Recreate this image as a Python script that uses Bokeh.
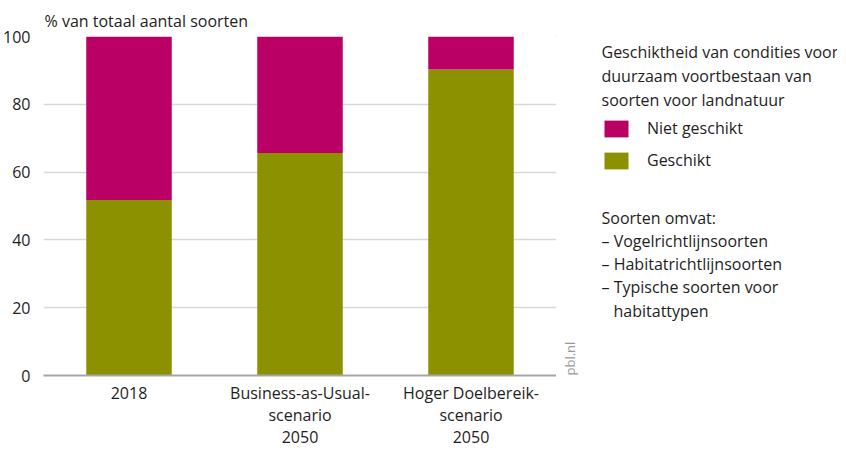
import math
from bokeh.plotting import figure
from bokeh.layouts import row
from bokeh.models import Legend, LegendItem, Label, ColumnDataSource, Range1d, FixedTicker, Title
from bokeh.embed import file_html
from bokeh.resources import INLINE

categories = ["2018", "Business-as-Usual-\nscenario\n2050", "Hoger Doelbereik-\nscenario\n2050"]
geschikt = [51.8, 65.6, 90.3]
niet_geschikt = [48.2, 34.4, 9.7]
series = ["geschikt", "niet_geschikt"]
series_labels = ["Geschikt", "Niet geschikt"]
colors = ["#8c9100", "#ba0064"]
y_ticks = [0, 20, 40, 60, 80, 100]
y_title = "% van totaal aantal soorten"
legend_title = ["Geschiktheid van condities voor", "duurzaam voortbestaan van", "soorten voor landnatuur"]
notes = ["Soorten omvat:", "\u2013 Vogelrichtlijnsoorten", "\u2013 Habitatrichtlijnsoorten",
         "\u2013 Typische soorten voor", "habitattypen"]
source_text = "pbl.nl"

FONT = "Open Sans"
FS = "16px"
TXT = "#1e1e1e"
FT, FH = 36, 339
FB = FT + FH

source = ColumnDataSource(dict(cat=categories, geschikt=geschikt, niet_geschikt=niet_geschikt))

p = figure(x_range=categories, y_range=Range1d(0, 100), frame_width=513, frame_height=FH,
           output_backend="svg", toolbar_location=None,
           min_border_left=36, min_border_right=0, min_border_top=FT, min_border_bottom=0)
p.outline_line_color = None

renderers = p.vbar_stack(series, x="cat", width=0.5, source=source, color=colors, line_color=None)

p.x_range.range_padding = 0
p.yaxis.ticker = FixedTicker(ticks=y_ticks)
p.yaxis.axis_line_color = None
p.yaxis.major_tick_line_color = None
p.yaxis.minor_tick_line_color = None
p.yaxis.major_label_standoff = 7
p.yaxis.major_label_text_font = FONT
p.yaxis.major_label_text_font_size = FS
p.yaxis.major_label_text_color = TXT

p.xaxis.axis_line_color = "#a6a6a6"
p.xaxis.axis_line_width = 2
p.xaxis.major_tick_line_color = None
p.xaxis.minor_tick_line_color = None
p.xaxis.major_label_standoff = 0
p.xaxis.major_label_text_font = FONT
p.xaxis.major_label_text_font_size = FS
p.xaxis.major_label_text_color = TXT
p.xaxis.major_label_text_line_height = 1.02

p.xgrid.grid_line_color = None
p.ygrid.grid_line_color = "#d9d9d9"
p.ygrid.grid_line_width = 1.5

p.add_layout(Title(text=y_title, align="left", offset=1, text_font=FONT,
                   text_font_size=FS, text_font_style="normal", text_color=TXT,
                   standoff=10), "above")

# side panel for legend and notes; its frame is aligned with p's frame,
# y range set so 1 data unit = 1 px measured from the top of the canvas
q = figure(frame_width=281, frame_height=FH, x_range=Range1d(0, 281), y_range=Range1d(FB, FT),
           output_backend="svg", toolbar_location=None,
           x_axis_location=None, y_axis_location=None,
           min_border_left=0, min_border_right=0, min_border_top=FT, min_border_bottom=0)
q.grid.visible = False
q.outline_line_color = None

for i, line in enumerate(legend_title):
    q.add_layout(Label(x=45, y=51 + 24 * i, text=line, text_font=FONT, text_font_size=FS,
                       text_color=TXT, text_baseline="middle"))

dummy = [q.vbar(x=[-1000], top=[-1000], bottom=[-1001], width=1, color=c, line_color=None)
         for c in colors]
legend = Legend(items=[LegendItem(label=series_labels[1], renderers=[dummy[1]]),
                       LegendItem(label=series_labels[0], renderers=[dummy[0]])],
                location=(45, FB - 171), padding=0, margin=0, spacing=10,
                glyph_width=30, glyph_height=21, label_standoff=16,
                label_text_font=FONT, label_text_font_size=FS, label_text_color=TXT,
                border_line_color=None, background_fill_alpha=0)
q.add_layout(legend)

for i, line in enumerate(notes):
    q.add_layout(Label(x=57 if i == 4 else 45, y=217 + 23.3 * i, text=line, text_font=FONT,
                       text_font_size=FS, text_color=TXT, text_baseline="middle"))

q.add_layout(Label(x=13, y=FB, angle=math.pi / 2, text=source_text, text_font=FONT,
                   text_font_size="13px", text_color="#999999", text_baseline="middle",
                   text_align="left"))

layout = row(p, q, spacing=0)
open("out.html", "w").write(file_html(layout, INLINE))
